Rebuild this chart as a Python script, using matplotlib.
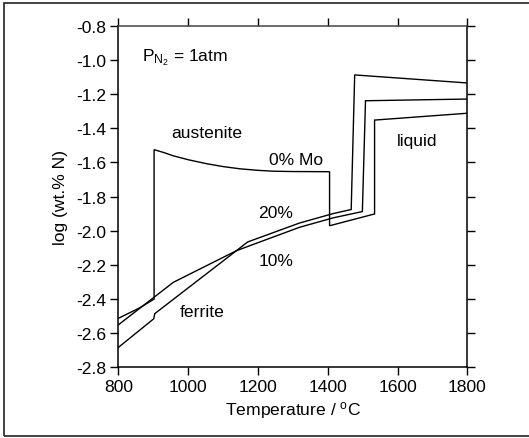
import matplotlib
matplotlib.use("Agg")
import matplotlib.pyplot as plt
from matplotlib.patches import Rectangle

plt.rcParams['font.family'] = ['Liberation Sans', 'DejaVu Sans']

# Nitrogen solubility, log(wt.% N), under 1 atm N2 for Fe-Mo alloys
# 0% Mo: ferrite -> austenite -> delta ferrite -> liquid
mo0_T = [800, 860, 902, 902, 930, 957, 1000, 1052, 1100, 1148, 1200, 1243, 1300,
         1405, 1405, 1534, 1534, 1800]
mo0_logN = [-2.512, -2.452, -2.400, -1.526, -1.543, -1.562, -1.585, -1.608, -1.625,
            -1.638, -1.647, -1.652, -1.654, -1.655, -1.971, -1.902, -1.353, -1.313]

# 10% Mo: ferrite -> liquid
mo10_T = [800, 902, 957, 1138, 1176, 1319, 1415, 1499, 1508, 1800]
mo10_logN = [-2.550, -2.389, -2.302, -2.117, -2.088, -1.980, -1.925, -1.888, -1.240, -1.230]

# 20% Mo: ferrite (small step near 900 C) -> liquid
mo20_T = [800, 901, 904, 1138, 1170, 1319, 1415, 1467, 1477, 1800]
mo20_logN = [-2.682, -2.515, -2.485, -2.117, -2.066, -1.955, -1.900, -1.876, -1.089, -1.136]

x_ticks = [800, 1000, 1200, 1400, 1600, 1800]
y_ticks = [-2.8, -2.6, -2.4, -2.2, -2.0, -1.8, -1.6, -1.4, -1.2, -1.0, -0.8]

FS = 12.6

fig = plt.figure(figsize=(5.29, 4.39), dpi=100)
ax = fig.add_axes([0.224, 0.1606, 0.6595, 0.779])

for T, n in [(mo0_T, mo0_logN), (mo10_T, mo10_logN), (mo20_T, mo20_logN)]:
    ax.plot(T, n, color='black', lw=1.0, solid_joinstyle='miter')

ax.set_xlim(800, 1800)
ax.set_ylim(-2.8, -0.8)
ax.set_xticks(x_ticks)
ax.set_xticklabels([str(t) for t in x_ticks])
ax.set_yticks(y_ticks)
ax.set_yticklabels([f"{v:.1f}" for v in y_ticks])

ax.tick_params(axis='both', which='major', direction='out', length=5.5, width=1.0,
               labelsize=FS, top=True, right=True, pad=2.5, colors='black')
ax.tick_params(axis='y', pad=3)
for s in ax.spines.values():
    s.set_linewidth(1.1)
    s.set_color('black')
ax.spines['top'].set_color('#444444')

ax.set_xlabel('Temperature / $\\mathregular{^{o}}$C', fontsize=FS, labelpad=4)
ax.set_ylabel('log (wt.% N)', fontsize=FS, labelpad=6)

ax.text(866, -1.002, 'P$\\mathregular{_{N_2}}$ = 1atm', fontsize=FS, ha='left', va='baseline')
ax.text(1053, -1.423, 'austenite', fontsize=FS, ha='center', va='center')
ax.text(1310, -1.581, '0% Mo', fontsize=FS, ha='center', va='center')
ax.text(1251, -1.895, '20%', fontsize=FS, ha='center', va='center')
ax.text(1251, -2.177, '10%', fontsize=FS, ha='center', va='center')
ax.text(1040, -2.475, 'ferrite', fontsize=FS, ha='center', va='center')
ax.text(1657, -1.470, 'liquid', fontsize=FS, ha='center', va='center')

# outer frame around the figure
fig.patches.append(Rectangle((3.5 / 529, 2.3 / 439), 1.2, 432.4 / 439,
                             transform=fig.transFigure, fill=False,
                             edgecolor='#222222', lw=1.2))

fig.savefig('out.png', dpi=100)
